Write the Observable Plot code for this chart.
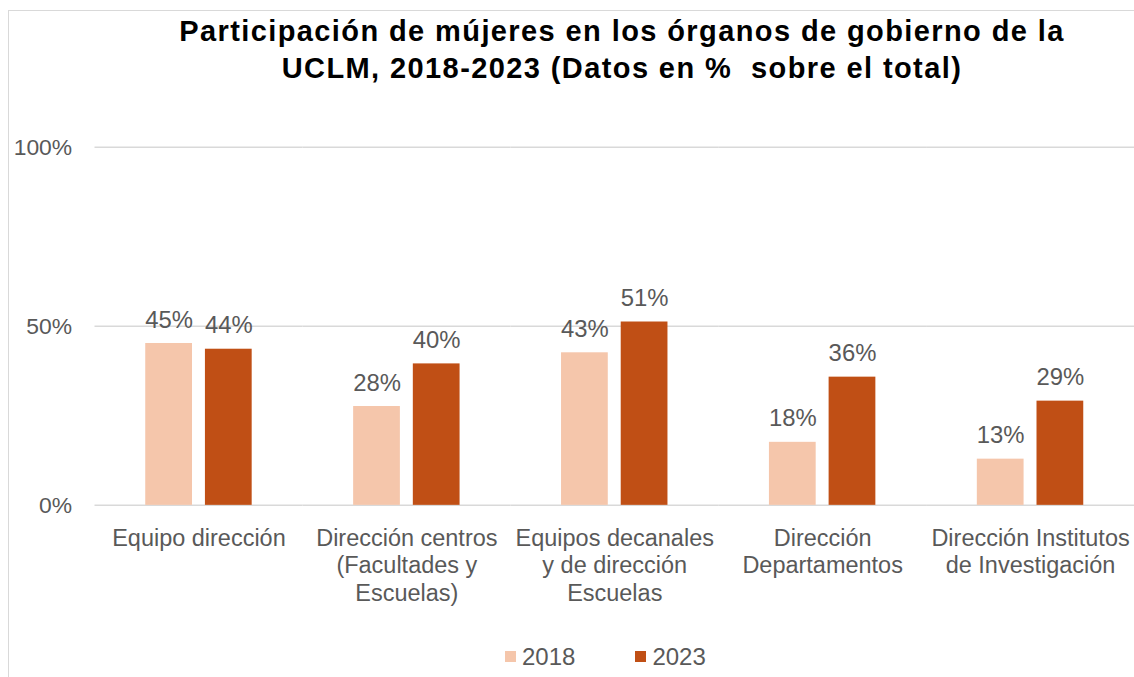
<!DOCTYPE html>
<html>
<head>
<meta charset="utf-8">
<script src="https://cdn.jsdelivr.net/npm/d3@7"></script>
<script src="https://cdn.jsdelivr.net/npm/@observablehq/plot@0.6"></script>
<style>
  html, body { margin: 0; padding: 0; overflow: hidden; background: #fff; }
  #wrap { position: relative; width: 1134px; height: 677px; overflow: hidden; font-family: "Liberation Sans", Arial, sans-serif; }
  #frame { position: absolute; left: 8px; top: 10px; width: 1300px; height: 800px; border: 1.5px solid #d9d9d9; box-sizing: border-box; }
  #title { position: absolute; left: 122px; width: 1000px; top: 13px; text-align: center; font-weight: bold; font-size: 29px; letter-spacing: 1.4px; line-height: 37px; color: #000; }
  #chart { position: absolute; left: 0; top: 100px; }
  #legend { position: absolute; top: 640px; left: 505px; font-size: 24px; color: #595959; white-space: nowrap; }
  .item { display: inline-flex; align-items: center; }
  .sw { display: inline-block; width: 11px; height: 11px; margin-right: 6px; }
</style>
</head>
<body>
<div id="wrap">
  <div id="frame"></div>
  <div id="title">Participación de mújeres en los órganos de gobierno de la<br>UCLM, 2018-2023 (Datos en %&nbsp; sobre el total)</div>
  <div id="chart"></div>
  <div id="legend"></div>
</div>
<script>
const categories = [
  "Equipo dirección",
  "Dirección centros (Facultades y Escuelas)",
  "Equipos decanales y de dirección Escuelas",
  "Dirección Departamentos",
  "Dirección Institutos de Investigación"
];
const categoryLabels = [
  "Equipo dirección",
  "Dirección centros\n(Facultades y\nEscuelas)",
  "Equipos decanales\ny de dirección\nEscuelas",
  "Dirección\nDepartamentos",
  "Dirección Institutos\nde Investigación"
];
const years = ["2018", "2023"];
const values2018 = [45.2, 27.6, 42.6, 17.6, 12.9];
const values2023 = [43.6, 39.5, 51.2, 35.8, 29.1];
const yTicks = [0, 50, 100];
const colors = ["#F5C6AB", "#C04F15"];

const data = [];
categories.forEach((c, i) => {
  data.push({cat: c, year: years[0], value: values2018[i]});
  data.push({cat: c, year: years[1], value: values2023[i]});
});

const textColor = "#595959";

const chart = Plot.plot({
  width: 1140,
  height: 520,
  marginLeft: 95,
  marginRight: 0,
  marginTop: 47,
  marginBottom: 113,
  style: {fontFamily: "'Liberation Sans', Arial, sans-serif", fontSize: "23px", color: textColor, background: "transparent"},
  fx: {domain: categories, padding: 0, axis: null},
  x: {domain: years, paddingInner: 0.22, paddingOuter: 0.85, axis: null},
  y: {domain: [0, 100], axis: null},
  color: {domain: years, range: colors},
  marks: [
    Plot.gridY(yTicks, {stroke: "#d9d9d9", strokeOpacity: 1, strokeWidth: 1.5}),
    Plot.axisY(yTicks, {tickFormat: d => d + "%", tickSize: 0, tickPadding: 23, fill: textColor, fontSize: 23, label: null}),
    Plot.barY(data, {fx: "cat", x: "year", y: "value", fill: "year"}),
    Plot.text(data, {fx: "cat", x: "year", y: "value", text: d => Math.round(d.value) + "%", lineAnchor: "bottom", dy: -16, fill: textColor, fontSize: 24}),
    Plot.text(categories, {fx: d => d, text: (d, i) => categoryLabels[i], frameAnchor: "bottom", lineAnchor: "top", dy: 21, lineHeight: 1.17, fill: textColor, fontSize: 23.6})
  ]
});
document.getElementById("chart").appendChild(chart);

const legend = document.getElementById("legend");
years.forEach((y, i) => {
  const item = document.createElement("span");
  item.className = "item";
  if (i > 0) item.style.marginLeft = "60px";
  const sw = document.createElement("span");
  sw.className = "sw";
  sw.style.background = colors[i];
  item.appendChild(sw);
  item.appendChild(document.createTextNode(y));
  legend.appendChild(item);
});
</script>
</body>
</html>
